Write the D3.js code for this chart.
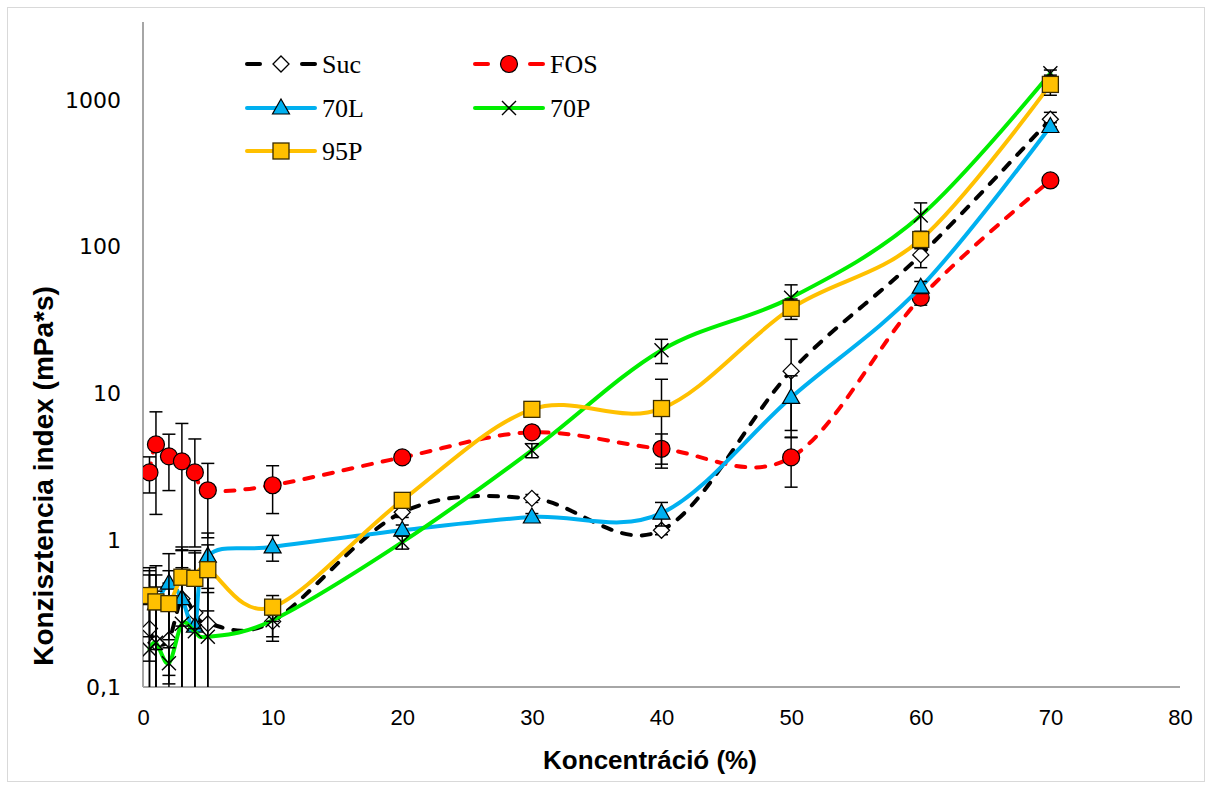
<!DOCTYPE html>
<html>
<head>
<meta charset="utf-8">
<script src="https://cdn.jsdelivr.net/npm/d3@7"></script>
<style>
  html, body { margin: 0; padding: 0; background: #fff; }
  svg { display: block; }
</style>
</head>
<body>
<svg id="chart" width="1212" height="789"></svg>
<script>
// Concentration levels (%)
const conc = [0.5, 1, 2, 3, 4, 5, 10, 20, 30, 40, 50, 60, 70];

// Consistency index means and standard deviations (mPa*s)
const sucMean = [0.25, 0.2, 0.21, 0.4, 0.32, 0.27, 0.28, 1.55, 1.93, 1.17, 14.2, 88, 740];
const sucSd   = [0.33, 0.28, 0.3, 0.45, 0.5, 0.45, 0.06, 0.12, 0.12, 0.08, 9.2, 16, 84];
const fosMean = [2.9, 4.5, 3.73, 3.45, 2.9, 2.19, 2.37, 3.67, 5.44, 4.2, 3.67, 45, 283];
const fosSd   = [0.8, 3.0, 1.55, 2.8, 2.0, 1.15, 0.85, 0.2, 0.3, 1.1, 1.37, 5, 15];
const l70Mean = [0.4, 0.37, 0.51, 0.4, 0.26, 0.78, 0.9, 1.17, 1.44, 1.53, 9.4, 53, 660];
const l70Sd   = [0.25, 0.3, 0.3, 0.5, 0.3, 0.34, 0.18, 0.1, 0.08, 0.28, 3.8, 5, 40];
const p70Mean = [0.18, 0.2, 0.145, 0.27, 0.24, 0.22, 0.285, 0.97, 4.1, 19.7, 45, 163, 1520];
const p70Sd   = [0.2, 0.25, 0.04, 0.3, 0.3, 0.25, 0.08, 0.1, 0.45, 3.7, 10, 36, 80];
const p95Mean = [0.42, 0.38, 0.37, 0.56, 0.55, 0.63, 0.35, 1.87, 7.8, 7.9, 38, 112, 1277];
const p95Sd   = [0.2, 0.2, 0.25, 0.3, 0.3, 0.3, 0.07, 0.12, 0.6, 4.6, 6, 15, 200];

// Axis ticks
const xTicks = [0, 10, 20, 30, 40, 50, 60, 70, 80];
const yTicks = [0.1, 1, 10, 100, 1000];
const yTickLabels = ["0,1", "1", "10", "100", "1000"];

const series = [
  { name: "Suc", mean: sucMean, sd: sucSd, color: "#000000", dash: "9,11", marker: "diamond", fill: "#ffffff" },
  { name: "FOS", mean: fosMean, sd: fosSd, color: "#ff0000", dash: "9,11", marker: "circle", fill: "#ff0000" },
  { name: "70L", mean: l70Mean, sd: l70Sd, color: "#00b0f0", dash: null, marker: "triangle", fill: "#00b0f0" },
  { name: "70P", mean: p70Mean, sd: p70Sd, color: "#00ee00", dash: null, marker: "cross", fill: "none" },
  { name: "95P", mean: p95Mean, sd: p95Sd, color: "#ffc000", dash: null, marker: "square", fill: "#ffc000" }
];

const svg = d3.select("#chart");
const plotTop = 22;

const x = d3.scaleLinear().domain([0, 80]).range([143, 1180]);
const y = d3.scaleLog().domain([0.1, 1000]).range([687, 100]);
const yBottom = y(0.1);

// outer chart frame
svg.append("rect")
  .attr("x", 7.5).attr("y", 7.5).attr("width", 1197).attr("height", 774)
  .attr("fill", "none").attr("stroke", "#d9d9d9").attr("stroke-width", 1);

// clip region for the plot area
svg.append("clipPath").attr("id", "plotClip")
  .append("rect").attr("x", x(0)).attr("y", plotTop)
  .attr("width", x(80) - x(0)).attr("height", yBottom - plotTop);

// axes
const xAxis = d3.axisBottom(x).tickValues(xTicks).tickSize(0).tickPadding(22).tickFormat(d3.format("d"));
const gx = svg.append("g").attr("transform", `translate(0,${yBottom})`).call(xAxis);
gx.select(".domain").remove();
gx.selectAll("text")
  .attr("font-family", "Liberation Sans, Arial, sans-serif")
  .attr("font-size", 22).attr("fill", "#000");

const yAxis = d3.axisLeft(y).tickValues(yTicks).tickSize(0).tickPadding(22)
  .tickFormat((d, i) => yTickLabels[i]);
const gy = svg.append("g").attr("transform", `translate(${x(0)},0)`).call(yAxis);
gy.select(".domain").remove();
gy.selectAll("text")
  .attr("font-family", "DejaVu Sans, Verdana, sans-serif")
  .attr("font-size", 22).attr("fill", "#000");

svg.append("line")
  .attr("x1", x(0)).attr("x2", x(80)).attr("y1", yBottom).attr("y2", yBottom)
  .attr("stroke", "#a6a6a6").attr("stroke-width", 2);
svg.append("line")
  .attr("x1", x(0)).attr("x2", x(0)).attr("y1", plotTop).attr("y2", yBottom)
  .attr("stroke", "#a6a6a6").attr("stroke-width", 2);

// axis titles
svg.append("text")
  .attr("x", 650).attr("y", 769)
  .attr("text-anchor", "middle")
  .attr("font-family", "Liberation Sans, Arial, sans-serif")
  .attr("font-weight", "bold").attr("font-size", 26)
  .text("Koncentráció (%)");
svg.append("text")
  .attr("transform", "translate(53,476) rotate(-90)")
  .attr("text-anchor", "middle")
  .attr("font-family", "Liberation Sans, Arial, sans-serif")
  .attr("font-weight", "bold").attr("font-size", 28)
  .text("Konzisztencia index (mPa*s)");

// marker drawing
function drawMarker(g, type, cx, cy, fill) {
  if (type === "circle") {
    g.append("circle").attr("cx", cx).attr("cy", cy).attr("r", 8.5)
      .attr("fill", fill).attr("stroke", "#000").attr("stroke-width", 1.2);
  } else if (type === "diamond") {
    const r = 8;
    g.append("path")
      .attr("d", `M${cx},${cy - r}L${cx + r},${cy}L${cx},${cy + r}L${cx - r},${cy}Z`)
      .attr("fill", fill).attr("stroke", "#000").attr("stroke-width", 1.3);
  } else if (type === "triangle") {
    const h = 15, w = 17;
    g.append("path")
      .attr("d", `M${cx},${cy - h * 0.6}L${cx + w / 2},${cy + h * 0.4}L${cx - w / 2},${cy + h * 0.4}Z`)
      .attr("fill", fill).attr("stroke", "#000").attr("stroke-width", 1.2);
  } else if (type === "square") {
    const s = 16;
    g.append("rect").attr("x", cx - s / 2).attr("y", cy - s / 2).attr("width", s).attr("height", s)
      .attr("fill", fill).attr("stroke", "#3a2c00").attr("stroke-width", 1.3);
  } else if (type === "cross") {
    const r = 7;
    g.append("path")
      .attr("d", `M${cx - r},${cy - r}L${cx + r},${cy + r}M${cx - r},${cy + r}L${cx + r},${cy - r}`)
      .attr("stroke", "#000").attr("stroke-width", 1.4).attr("fill", "none");
  }
}

const line = d3.line()
  .x(d => x(d[0]))
  .y(d => y(d[1]))
  .curve(d3.curveCardinal.tension(0));

const plot = svg.append("g").attr("clip-path", "url(#plotClip)");

series.forEach(s => {
  const pts = conc.map((c, i) => [c, s.mean[i]]);
  const g = plot.append("g");

  g.append("path")
    .datum(pts)
    .attr("d", line)
    .attr("fill", "none")
    .attr("stroke", s.color)
    .attr("stroke-width", 4)
    .attr("stroke-linecap", "round")
    .attr("stroke-dasharray", s.dash);

  // error bars (mean ± SD)
  conc.forEach((c, i) => {
    const cx = x(c);
    const hi = s.mean[i] + s.sd[i];
    const lo = s.mean[i] - s.sd[i];
    const yHi = y(hi);
    const yLo = lo > 0.1 ? y(lo) : yBottom + 2;
    g.append("line").attr("x1", cx).attr("x2", cx).attr("y1", yHi).attr("y2", yLo)
      .attr("stroke", "#000").attr("stroke-width", 1.5);
    g.append("line").attr("x1", cx - 6.5).attr("x2", cx + 6.5).attr("y1", yHi).attr("y2", yHi)
      .attr("stroke", "#000").attr("stroke-width", 1.5);
    if (lo > 0.1) {
      g.append("line").attr("x1", cx - 6.5).attr("x2", cx + 6.5).attr("y1", yLo).attr("y2", yLo)
        .attr("stroke", "#000").attr("stroke-width", 1.5);
    }
  });

  pts.forEach(p => drawMarker(g, s.marker, x(p[0]), y(p[1]), s.fill));
});

// legend
const legendPos = [
  { x: 247, y: 64 }, { x: 475, y: 64 },
  { x: 247, y: 108 }, { x: 475, y: 108 },
  { x: 247, y: 151 }
];
series.forEach((s, i) => {
  const p = legendPos[i];
  const g = svg.append("g");
  if (s.dash) {
    [[p.x, p.x + 13], [p.x + 55, p.x + 68]].forEach(seg => {
      g.append("line").attr("x1", seg[0]).attr("x2", seg[1]).attr("y1", p.y).attr("y2", p.y)
        .attr("stroke", s.color).attr("stroke-width", 4).attr("stroke-linecap", "round");
    });
  } else {
    g.append("line").attr("x1", p.x).attr("x2", p.x + 68).attr("y1", p.y).attr("y2", p.y)
      .attr("stroke", s.color).attr("stroke-width", 4).attr("stroke-linecap", "round");
  }
  drawMarker(g, s.marker, p.x + 34, p.y, s.fill);
  g.append("text")
    .attr("x", p.x + 75).attr("y", p.y + 9)
    .attr("font-family", "Liberation Serif, Times New Roman, serif")
    .attr("font-size", 26).attr("fill", "#000")
    .text(s.name);
});
</script>
</body>
</html>
